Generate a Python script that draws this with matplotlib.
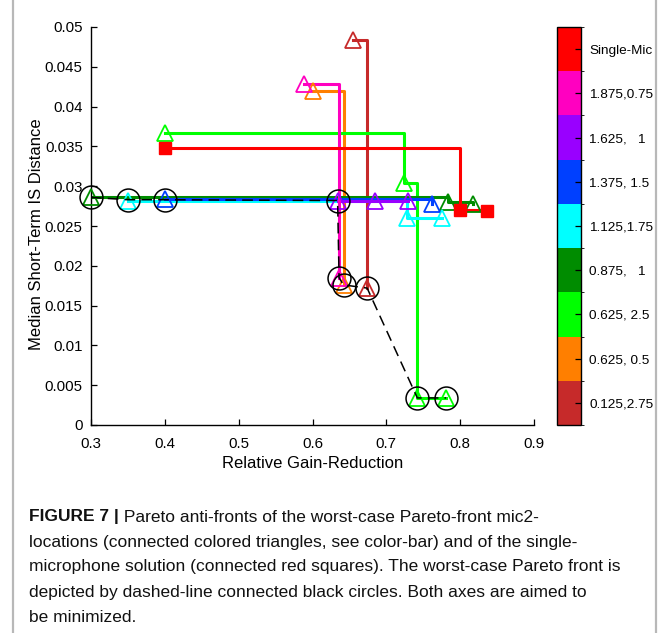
import matplotlib
matplotlib.use("Agg")
import matplotlib.pyplot as plt
from matplotlib.colors import ListedColormap, BoundaryNorm
from matplotlib.cm import ScalarMappable
from matplotlib.lines import Line2D

plt.rcParams['font.family'] = ['Liberation Sans', 'DejaVu Sans']

# mic2 configurations, bottom to top of the color-bar
config_labels = ['0.125,2.75', '0.625, 0.5', '0.625, 2.5', '0.875,   1',
                 '1.125,1.75', '1.375, 1.5', '1.625,   1', '1.875,0.75',
                 'Single-Mic']
config_colors = ['#c62a2a', '#ff7f00', '#00ff00', '#008c00', '#00ffff',
                 '#0040ff', '#9900ff', '#ff00c0', '#ff0000']

# Pareto anti-fronts (relative gain-reduction, median IS distance)
brown_x = [0.655, 0.674]
brown_y = [0.0484, 0.0172]
orange_x = [0.600, 0.642]
orange_y = [0.0419, 0.0176]
green_x = [0.400, 0.724, 0.742, 0.781]
green_y = [0.0367, 0.0304, 0.0034, 0.0034]
dkgreen_x = [0.300, 0.784, 0.818]
dkgreen_y = [0.0286, 0.0280, 0.0278]
cyan_x = [0.350, 0.728, 0.775]
cyan_y = [0.0282, 0.0260, 0.0260]
blue_x = [0.400, 0.762]
blue_y = [0.02835, 0.0278]
purple_x = [0.634, 0.685, 0.730]
purple_y = [0.0281, 0.0281, 0.0281]
magenta_x = [0.588, 0.636]
magenta_y = [0.0428, 0.0185]
single_x = [0.400, 0.800, 0.836]
single_y = [0.0348, 0.0270, 0.0269]

# worst-case Pareto front
front_x = [0.300, 0.350, 0.400, 0.634, 0.636, 0.642, 0.674, 0.742, 0.781]
front_y = [0.0286, 0.0283, 0.0283, 0.0282, 0.0185, 0.0176, 0.0172, 0.0034, 0.0034]

x_ticks = [0.3, 0.4, 0.5, 0.6, 0.7, 0.8, 0.9]
x_labels = ['0.3', '0.4', '0.5', '0.6', '0.7', '0.8', '0.9']
y_ticks = [0, 0.005, 0.01, 0.015, 0.02, 0.025, 0.03, 0.035, 0.04, 0.045, 0.05]
y_labels = ['0', '0.005', '0.01', '0.015', '0.02', '0.025', '0.03', '0.035',
            '0.04', '0.045', '0.05']

caption_head = 'FIGURE 7 |'
caption_lines = [
    ' Pareto anti-fronts of the worst-case Pareto-front mic2-',
    'locations (connected colored triangles, see color-bar) and of the single-',
    'microphone solution (connected red squares). The worst-case Pareto front is',
    'depicted by dashed-line connected black circles. Both axes are aimed to',
    'be minimized.',
]

W, H = 663, 633
fig = plt.figure(figsize=(W / 100, H / 100), dpi=100)
ax = fig.add_axes([91 / W, 1 - 425 / H, (534 - 91) / W, (425 - 27) / H])

series = [
    (brown_x, brown_y), (orange_x, orange_y), (green_x, green_y),
    (dkgreen_x, dkgreen_y), (cyan_x, cyan_y), (blue_x, blue_y),
    (purple_x, purple_y), (magenta_x, magenta_y),
]
for (xs, ys), col in zip(series, config_colors[:8]):
    ax.step(xs, ys, where='post', color=col, lw=2.2, zorder=2)
    ax.plot(xs, ys, ls='none', marker='^', ms=11, mfc='none', mec=col,
            mew=1.3, zorder=3, clip_on=False)

ax.step(single_x, single_y, where='post', color=config_colors[8], lw=2.2, zorder=2)
ax.plot(single_x, single_y, ls='none', marker='s', ms=8.5,
        color=config_colors[8], zorder=3)

ax.plot(front_x, front_y, color='black', lw=1.1, ls=(0, (7, 4)), zorder=4)
ax.plot(front_x, front_y, ls='none', marker='o', ms=16.5, mfc='none',
        mec='black', mew=1.1, zorder=4, clip_on=False)

ax.set_xlim(0.3, 0.9)
ax.set_ylim(0, 0.05)
ax.set_xticks(x_ticks, labels=x_labels)
ax.set_yticks(y_ticks, labels=y_labels)
ax.spines['top'].set_visible(False)
ax.spines['right'].set_visible(False)
for s in ax.spines.values():
    s.set_linewidth(1.0)
ax.tick_params(direction='in', length=4, width=0.9, labelsize=10.8)
ax.tick_params(axis='x', pad=9)
ax.tick_params(axis='y', pad=6)
ax.set_xlabel('Relative Gain-Reduction', fontsize=12, labelpad=3)
ax.set_ylabel('Median Short-Term IS Distance', fontsize=12, labelpad=5)
ax.yaxis.set_label_coords(-0.105, 0.48)

# discrete color-bar for the mic2 configurations
cax = fig.add_axes([557 / W, 1 - 425 / H, 24 / W, 398 / H])
cmap = ListedColormap(config_colors)
norm = BoundaryNorm(range(len(config_colors) + 1), cmap.N)
cb = fig.colorbar(ScalarMappable(norm=norm, cmap=cmap), cax=cax)
cb.set_ticks([i + 0.5 for i in range(len(config_labels))], labels=config_labels)
cb.outline.set_linewidth(1.0)
cax.tick_params(direction='in', length=4, width=0.9, labelsize=9.7, pad=6)

# page frame lines
fig.add_artist(Line2D([13 / W, 13 / W], [0, 1], color='#b8b8b8', lw=1.6))
fig.add_artist(Line2D([656 / W, 656 / W], [0, 1], color='#b8b8b8', lw=1.6))

# caption
cap_kw = dict(fontsize=12.5, va='center', ha='left', color='#111111')
head = fig.text(29 / W, 1 - 517 / H, caption_head, fontweight='bold', **cap_kw)
fig.canvas.draw()
bb = head.get_window_extent()
fig.text(bb.x1 / W, 1 - 517 / H, caption_lines[0], **cap_kw)
for i, line in enumerate(caption_lines[1:], start=1):
    fig.text(29 / W, 1 - (517 + 25 * i) / H, line, **cap_kw)

fig.savefig('out.png', dpi=100)
